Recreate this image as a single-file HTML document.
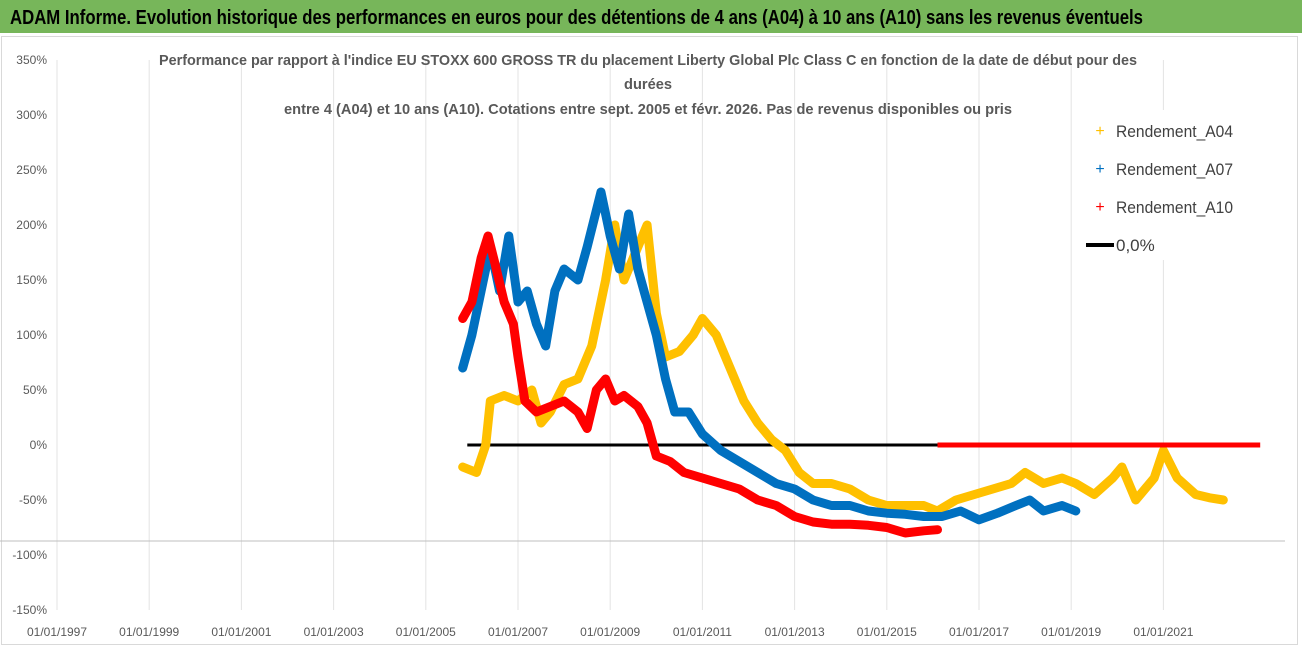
<!DOCTYPE html>
<html><head><meta charset="utf-8"><style>
body{margin:0;background:#fff;width:1302px;height:647px;overflow:hidden}
svg{display:block;font-family:"Liberation Sans Narrow","Liberation Sans",sans-serif}
</style></head><body>
<svg id="chart" width="1302" height="647">
<rect x="0" y="0" width="1302" height="33" fill="#77B65A"/>
<text x="10" y="24" font-size="20" font-weight="bold" fill="#000" textLength="1133" lengthAdjust="spacingAndGlyphs">ADAM Informe. Evolution historique des performances en euros pour des détentions de 4 ans (A04) à 10 ans (A10) sans les revenus éventuels</text>
<rect x="1.5" y="36.5" width="1296" height="608" fill="none" stroke="#d9d9d9"/>
<g id="grid"></g><g id="marks"></g>
<g font-weight="bold" fill="#595959" font-size="15" text-anchor="middle">
<text x="648" y="65" textLength="978" lengthAdjust="spacingAndGlyphs">Performance par rapport à l'indice EU STOXX 600 GROSS TR  du placement Liberty Global Plc Class C en fonction de la date de début pour des</text>
<text x="648" y="89" textLength="48" lengthAdjust="spacingAndGlyphs">durées</text>
<text x="648" y="114" textLength="728" lengthAdjust="spacingAndGlyphs">entre 4 (A04) et 10 ans (A10). Cotations entre sept. 2005 et févr. 2026. Pas de revenus disponibles ou pris</text>
</g>
<g font-size="17" fill="#404040">
<rect x="1075" y="110" width="200" height="150" fill="#fff"/>
<text x="1100" y="136" fill="#FFC000" font-size="16" text-anchor="middle">+</text><text x="1116" y="137" textLength="117" lengthAdjust="spacingAndGlyphs">Rendement_A04</text>
<text x="1100" y="174" fill="#0070C0" font-size="16" text-anchor="middle">+</text><text x="1116" y="175" textLength="117" lengthAdjust="spacingAndGlyphs">Rendement_A07</text>
<text x="1100" y="212" fill="#FF0000" font-size="16" text-anchor="middle">+</text><text x="1116" y="213" textLength="117" lengthAdjust="spacingAndGlyphs">Rendement_A10</text>
<line x1="1086" y1="245" x2="1114" y2="245" stroke="#000" stroke-width="4"/><text x="1116" y="251">0,0%</text>
</g>
</svg>
<script>
const yTicks=[350,300,250,200,150,100,50,0,-50,-100,-150];
const xYears=[1997,1999,2001,2003,2005,2007,2009,2011,2013,2015,2017,2019,2021];
const a04Dates=[2005.8,2006.1,2006.3,2006.4,2006.7,2007.0,2007.3,2007.5,2007.7,2008.0,2008.3,2008.6,2008.9,2009.1,2009.3,2009.5,2009.8,2010.0,2010.2,2010.5,2010.8,2011.0,2011.3,2011.6,2011.9,2012.2,2012.5,2012.8,2013.1,2013.4,2013.8,2014.2,2014.6,2015.0,2015.4,2015.8,2016.1,2016.5,2016.9,2017.3,2017.7,2018.0,2018.4,2018.8,2019.1,2019.5,2019.9,2020.1,2020.4,2020.8,2021.0,2021.3,2021.7,2022.0,2022.3];
const a04=[-20,-25,0,40,45,40,50,20,30,55,60,90,150,200,150,170,200,120,80,85,100,115,100,70,40,20,5,-5,-25,-35,-35,-40,-50,-55,-55,-55,-60,-50,-45,-40,-35,-25,-35,-30,-35,-45,-30,-20,-50,-30,-5,-30,-45,-48,-50];
const a07Dates=[2005.8,2006.0,2006.2,2006.4,2006.6,2006.8,2007.0,2007.2,2007.4,2007.6,2007.8,2008.0,2008.3,2008.5,2008.8,2009.0,2009.2,2009.4,2009.6,2009.8,2010.0,2010.2,2010.4,2010.7,2011.0,2011.4,2011.8,2012.2,2012.6,2013.0,2013.4,2013.8,2014.2,2014.6,2015.0,2015.4,2015.8,2016.2,2016.6,2017.0,2017.4,2017.8,2018.1,2018.4,2018.8,2019.1];
const a07=[70,100,140,180,140,190,130,140,110,90,140,160,150,180,230,190,160,210,160,130,100,60,30,30,10,-5,-15,-25,-35,-40,-50,-55,-55,-60,-62,-63,-65,-65,-60,-68,-62,-55,-50,-60,-55,-60];
const a10Dates=[2005.8,2006.0,2006.2,2006.35,2006.5,2006.7,2006.9,2007.0,2007.15,2007.4,2007.7,2008.0,2008.3,2008.5,2008.7,2008.9,2009.1,2009.3,2009.6,2009.8,2010.0,2010.3,2010.6,2011.0,2011.4,2011.8,2012.2,2012.6,2013.0,2013.4,2013.8,2014.2,2014.6,2015.0,2015.4,2015.8,2016.1];
const a10=[115,130,170,190,165,130,110,80,40,30,35,40,30,15,50,60,40,45,35,20,-10,-15,-25,-30,-35,-40,-50,-55,-65,-70,-72,-72,-73,-75,-80,-78,-77];
const zeroBlackStart=2005.9, zeroRedStart=2016.1, zeroRedEnd=2023.1;
const X=y=>57+(y-1997)*46.1, Y=v=>445-v*1.1;
const NS='http://www.w3.org/2000/svg';
const grid=document.getElementById('grid'), marks=document.getElementById('marks');
function mk(p,tag,at){const e=document.createElementNS(NS,tag);for(const k in at)e.setAttribute(k,at[k]);p.appendChild(e);return e;}
xYears.forEach(yr=>{
 const l=mk(grid,'line',{x1:X(yr),x2:X(yr),y1:60,y2:610,stroke:'#e3e3e3'});
 
 
 const t=mk(grid,'text',{x:X(yr),y:636,'font-size':12,fill:'#595959','text-anchor':'middle'});t.textContent='01/01/'+yr;
 
 
});
yTicks.forEach(v=>{
 const t=mk(grid,'text',{x:47,y:Y(v)+4,'font-size':12,fill:'#595959','text-anchor':'end'});t.textContent=v+'%';
 
 
});
const hl=mk(grid,'line',{x1:0,x2:1285,y1:541,y2:541,stroke:'#bfbfbf'});


const z=mk(marks,'line',{x1:X(zeroBlackStart),x2:X(zeroRedStart),y1:Y(0),y2:Y(0),stroke:'#000','stroke-width':3});


function series(dates,arr,color,name){
 const g=mk(marks,'g',{});
 
 
 const pts=arr.map((v,i)=>X(dates[i])+','+Y(v)).join(' ');
 mk(g,'polyline',{points:pts,fill:'none',stroke:color,'stroke-width':9,'stroke-linejoin':'round','stroke-linecap':'round'});
 arr.forEach((v,i)=>{const t=mk(g,'text',{x:X(dates[i]),y:Y(v)+5,'font-size':14,fill:color,'text-anchor':'middle'});t.textContent='+';
  
  });
}
series(a04Dates,a04,'#FFC000','series-a04');
series(a07Dates,a07,'#0070C0','series-a07');
series(a10Dates,a10,'#FF0000','series-a10');
const zr=mk(marks,'line',{x1:X(zeroRedStart),x2:X(zeroRedEnd),y1:Y(0),y2:Y(0),stroke:'#FF0000','stroke-width':5});


</script>
</body></html>
